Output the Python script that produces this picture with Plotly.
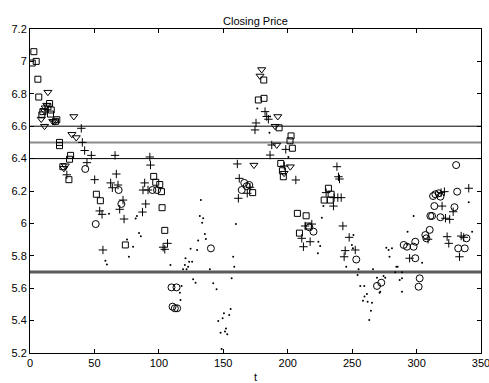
import plotly.graph_objects as go

# ---- data ----
sq_x = [3, 1.7, 4.8, 6.1, 6.8, 15.2, 13.9, 16.5, 10, 15.9, 9.2, 20.8, 19.8, 22.9, 22.9, 31.5, 30.7,
        25.5, 30.2, 51.5, 54.6, 74, 96, 97.6, 100.7, 102, 102.5, 104.6, 172.8, 181.4, 177.2, 181.6,
        193.3, 202.6, 201.8, 203.6, 194.6, 195.9, 196.6, 231.6, 233.7, 228.3, 233, 207.5, 214.3, 216, 209.1]
sq_y = [7.06, 6.99, 7.0, 6.89, 6.78, 6.74, 6.72, 6.70, 6.69, 6.675, 6.67, 6.64, 6.63, 6.50, 6.48, 6.42, 6.396,
        6.35, 6.27, 6.18, 6.14, 5.867, 6.29, 6.254, 6.24, 6.196, 6.097, 5.957, 6.19, 6.885, 6.762, 6.772,
        6.59, 6.54, 6.51, 6.464, 6.37, 6.325, 6.288, 6.217, 6.18, 6.144, 6.144, 6.062, 6.047, 5.984, 5.94]

tri_x = [13.9, 34, 11.3, 8.7, 13, 11.8, 11.3, 17.7, 19, 32.5, 35.9, 27.4, 26.3, 173.8, 179.8, 178.5,
         192.3, 190.2, 191.5, 197.2, 202]
tri_y = [6.81, 6.66, 6.60, 6.644, 6.73, 6.714, 6.694, 6.63, 6.628, 6.55, 6.53, 6.356, 6.34, 6.36, 6.95, 6.91,
         6.66, 6.60, 6.484, 6.31, 6.35]

plus_x = [39.8, 40.6, 42.4, 47.6, 66, 44.2, 28.6, 50.2, 67, 62.6, 63.9, 68.3, 89, 87.7, 91.6, 72.2, 69.6,
          54.1, 55.9, 73, 89.8, 87.3, 56.6, 93, 93.5, 160.9, 162.4, 161.7, 168.6, 170.7, 106.7, 104.6, 103.3,
          182.4, 183.7, 185, 175.4, 174.6, 187.6, 198.5, 186.3, 197.4, 206.3, 238.2, 239.4, 240.2, 229.8,
          236, 238.9, 241.5, 235.5, 213.5, 218.7, 210.9, 217.4, 212.2, 242.8, 247.7, 244.6, 243.8, 252.4,
          319, 321.6, 340.5, 319.8, 328.4, 322.4, 325.7, 308.9, 323.7, 325, 334.6, 336.6, 333.3, 294.6]
plus_y = [6.587, 6.50, 6.45, 6.42, 6.42, 6.375, 6.30, 6.27, 6.305, 6.25, 6.22, 6.237, 6.25, 6.206, 6.206, 6.144, 6.087,
          6.077, 6.056, 6.027, 6.12, 6.07, 5.836, 6.41, 6.36, 6.367, 6.278, 6.155, 6.186, 6.223, 5.877, 5.84, 5.853,
          6.69, 6.66, 6.643, 6.62, 6.577, 6.484, 6.457, 6.422, 6.354, 6.268, 6.35, 6.288, 6.274, 6.19,
          6.159, 6.159, 6.159, 6.107, 5.984, 5.996, 5.908, 5.887, 5.856, 5.984, 5.914, 5.832, 5.794, 5.836,
          6.19, 6.196, 6.217, 6.107, 6.072, 6.032, 6.025, 5.902, 5.918, 5.877, 5.922, 5.914, 5.794, 5.785]

circ_x = [42.9, 68.8, 70.9, 51, 95, 98.6, 140.4, 109.8, 113.7, 110.6, 112.4, 114.2, 166.3, 168.2, 164.3,
          170.2, 216.8, 220, 253.2, 269.3, 272.6, 330.7, 312.8, 314.6, 318.5, 317.2, 331.5, 313.8, 329.4,
          310.7, 312, 318.5, 310.2, 306.8, 307.6, 338.7, 332.3, 337.4, 290, 292.6, 297.7, 299, 299, 302.4, 301.6]
circ_y = [6.336, 6.206, 6.12, 5.996, 6.206, 6.206, 5.846, 5.605, 5.605, 5.486, 5.476, 5.476, 6.25, 6.23, 6.206,
          6.237, 5.976, 5.949, 5.777, 5.614, 5.634, 6.36, 6.169, 6.18, 6.165, 6.186, 6.196, 6.107, 6.1,
          6.046, 6.046, 6.038, 5.96, 5.928, 5.908, 5.908, 5.846, 5.846, 5.867, 5.856, 5.856, 5.887, 5.785, 5.661, 5.609]

dot_x = [61.3, 82, 83, 84.6, 86, 75.3, 80, 76.8, 58.5, 59.7, 132.6, 131.8, 134.4, 133.6, 135.7, 136.5, 130.5,
         124.6, 129.7, 120.7, 123.5, 125.8, 120.2, 122.7, 118.8, 121.5, 109, 139.6, 126.6, 128.5, 142.2, 144.8,
         117.6, 116.3, 116.8, 159.8, 157.7, 158.5, 156.5, 155.7, 154.6, 150.5, 149.5, 146.1, 152.1, 147.9,
         153.1, 151.3, 148.7, 176.4, 185.8, 200.5, 186.3, 227.7, 226.5, 223.8, 225.2, 223.4, 251, 249.8, 250.6,
         245.4, 255, 254.2, 266.2, 269.3, 274.4, 275.7, 271.3, 256.3, 259.4, 261.5, 259.6, 258.4, 262, 265.4,
         264.6, 263.3, 340.5, 297.7, 304.3, 276.5, 278.3, 280.9, 279, 284.3, 285.3, 283.5, 288.7, 293, 288.7,
         286.9, 288.7, 271.8, 343.1, 293]
dot_y = [6.06, 6.03, 6.045, 5.94, 5.92, 5.90, 5.856, 5.794, 5.77, 5.747, 6.144, 6.046, 6.032, 6.004, 5.935, 5.904, 5.894,
         5.844, 5.836, 5.785, 5.764, 5.764, 5.743, 5.733, 5.717, 5.717, 5.743, 5.717, 5.655, 5.634, 5.63, 5.593,
         5.614, 5.572, 5.527, 5.996, 5.794, 5.733, 5.661, 5.472, 5.435, 5.445, 5.414, 5.398, 5.352, 5.325,
         5.315, 5.332, 5.225, 6.71, 6.56, 6.41, 6.66, 6.107, 6.035, 5.887, 5.86, 5.815, 5.928, 5.867, 5.846,
         5.733, 5.717, 5.681, 5.717, 5.665, 5.675, 5.665, 5.572, 5.614, 5.614, 5.564, 5.548, 5.523, 5.517, 5.51,
         5.461, 5.404, 6.13, 6.046, 5.757, 5.85, 5.836, 5.846, 5.794, 5.733, 5.733, 5.698, 5.698, 5.87, 5.661,
         5.65, 5.578, 5.578, 5.949, 5.949]

# horizontal reference levels
h_levels = [6.6, 6.5, 6.4, 5.7]
h_colors = ["black", "#8a8a8a", "black", "#5a5a5a"]
h_widths = [1, 2, 1, 3]

x_ticks = [0, 50, 100, 150, 200, 250, 300, 350]
y_ticks = [5.2, 5.4, 5.6, 5.8, 6.0, 6.2, 6.4, 6.6, 6.8, 7.0, 7.2]
y_tick_text = ["5.2", "5.4", "5.6", "5.8", "6", "6.2", "6.4", "6.6", "6.8", "7", "7.2"]

fig = go.Figure()

for lvl, c, w in zip(h_levels, h_colors, h_widths):
    fig.add_trace(go.Scatter(x=[0, 350], y=[lvl, lvl], mode="lines",
                             line=dict(color=c, width=w), hoverinfo="skip", showlegend=False))

mk_line = dict(color="black", width=1)
fig.add_trace(go.Scatter(x=dot_x, y=dot_y, mode="markers", showlegend=False,
                         marker=dict(symbol="circle", size=2, color="black")))
fig.add_trace(go.Scatter(x=sq_x, y=sq_y, mode="markers", showlegend=False,
                         marker=dict(symbol="square-open", size=6, color="black", line=mk_line)))
fig.add_trace(go.Scatter(x=tri_x, y=tri_y, mode="markers", showlegend=False,
                         marker=dict(symbol="triangle-down-open", size=7, color="black", line=mk_line)))
fig.add_trace(go.Scatter(x=plus_x, y=plus_y, mode="markers", showlegend=False,
                         marker=dict(symbol="cross-thin-open", size=6, color="black", line=mk_line)))
fig.add_trace(go.Scatter(x=circ_x, y=circ_y, mode="markers", showlegend=False,
                         marker=dict(symbol="circle-open", size=7, color="black", line=mk_line)))

axis_font = dict(family="Liberation Sans, Arial, sans-serif", size=11, color="black")
fig.update_layout(
    width=489, height=383,
    margin=dict(l=30, r=8, t=29, b=30),
    paper_bgcolor="white", plot_bgcolor="white",
    font=axis_font,
    title=dict(text="Closing Price", x=0.5, xref="paper", y=1 - 21 / 383, yref="container",
               xanchor="center", yanchor="middle", font=dict(size=11), automargin=False),
    xaxis=dict(range=[0, 350], tickvals=x_ticks, ticks="inside", ticklen=4, tickcolor="black",
               showline=True, linecolor="black", linewidth=1, mirror="ticks", showgrid=False,
               zeroline=False, tickfont=axis_font, ticklabeloverflow="allow", automargin=False,
               title=dict(text="t", standoff=5, font=axis_font)),
    yaxis=dict(range=[5.2, 7.2], tickvals=y_ticks, ticktext=y_tick_text, ticks="inside", ticklen=4,
               tickcolor="black", showline=True, linecolor="black", linewidth=1, mirror="ticks",
               showgrid=False, zeroline=False, tickfont=axis_font, ticklabeloverflow="allow",
               automargin=False),
)

fig.write_html("out.html")
